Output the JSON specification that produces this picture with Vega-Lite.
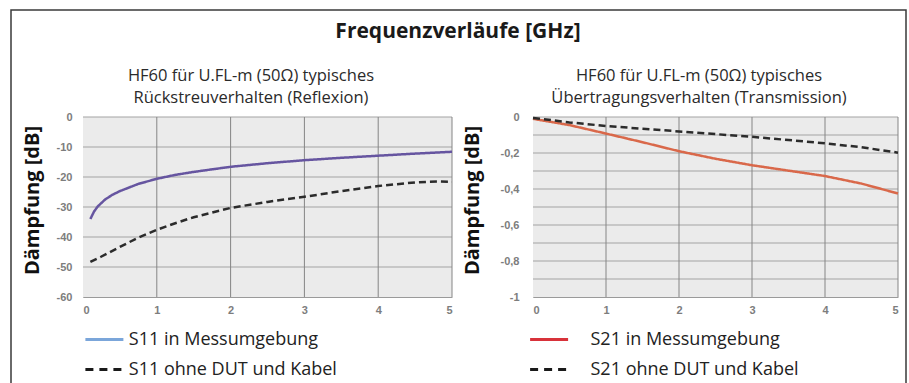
{
  "$schema": "https://vega.github.io/schema/vega-lite/v6.json",
  "width": 895,
  "height": 375,
  "autosize": {"type": "none"},
  "padding": {"left": 11, "top": 10, "right": 3, "bottom": 0},
  "background": "white",
  "config": {
    "view": {"stroke": "#3a3a3a", "strokeWidth": 1.5, "fill": "white"},
    "font": "Open Sans",
    "axis": {
      "labelFont": "Liberation Sans",
      "labelFontWeight": "bold",
      "labelFontSize": 11,
      "labelColor": "#7d7d7d",
      "ticks": false,
      "tickSize": 0,
      "grid": false,
      "domainColor": "#9a9a9a",
      "domainWidth": 1,
      "titleFont": "Open Sans",
      "titleFontWeight": "bold",
      "titleFontSize": 20,
      "titleColor": "#111111"
    },
    "legend": {
      "labelFont": "Open Sans",
      "labelFontSize": 18,
      "labelColor": "#222222",
      "labelLimit": 400,
      "padding": 0,
      "rowPadding": 11,
      "symbolType": "M-2.5,0H2.5",
      "symbolSize": 231,
      "symbolStrokeWidth": 3
    }
  },
  "datasets": {
    "s11": [
      {"f": 0.1, "db": -34.0, "s": "S11 in Messumgebung"},
      {"f": 0.15, "db": -31.5, "s": "S11 in Messumgebung"},
      {"f": 0.2, "db": -29.8, "s": "S11 in Messumgebung"},
      {"f": 0.3, "db": -27.5, "s": "S11 in Messumgebung"},
      {"f": 0.4, "db": -25.9, "s": "S11 in Messumgebung"},
      {"f": 0.5, "db": -24.7, "s": "S11 in Messumgebung"},
      {"f": 0.75, "db": -22.3, "s": "S11 in Messumgebung"},
      {"f": 1.0, "db": -20.6, "s": "S11 in Messumgebung"},
      {"f": 1.25, "db": -19.3, "s": "S11 in Messumgebung"},
      {"f": 1.5, "db": -18.3, "s": "S11 in Messumgebung"},
      {"f": 2.0, "db": -16.6, "s": "S11 in Messumgebung"},
      {"f": 2.5, "db": -15.4, "s": "S11 in Messumgebung"},
      {"f": 3.0, "db": -14.4, "s": "S11 in Messumgebung"},
      {"f": 3.5, "db": -13.6, "s": "S11 in Messumgebung"},
      {"f": 4.0, "db": -12.9, "s": "S11 in Messumgebung"},
      {"f": 4.5, "db": -12.2, "s": "S11 in Messumgebung"},
      {"f": 5.0, "db": -11.6, "s": "S11 in Messumgebung"},
      {"f": 0.1, "db": -48.3, "s": "S11 ohne DUT und Kabel"},
      {"f": 0.25, "db": -46.5, "s": "S11 ohne DUT und Kabel"},
      {"f": 0.5, "db": -43.3, "s": "S11 ohne DUT und Kabel"},
      {"f": 0.75, "db": -40.2, "s": "S11 ohne DUT und Kabel"},
      {"f": 1.0, "db": -37.6, "s": "S11 ohne DUT und Kabel"},
      {"f": 1.25, "db": -35.4, "s": "S11 ohne DUT und Kabel"},
      {"f": 1.5, "db": -33.4, "s": "S11 ohne DUT und Kabel"},
      {"f": 2.0, "db": -30.3, "s": "S11 ohne DUT und Kabel"},
      {"f": 2.5, "db": -28.3, "s": "S11 ohne DUT und Kabel"},
      {"f": 3.0, "db": -26.6, "s": "S11 ohne DUT und Kabel"},
      {"f": 3.5, "db": -24.7, "s": "S11 ohne DUT und Kabel"},
      {"f": 4.0, "db": -23.0, "s": "S11 ohne DUT und Kabel"},
      {"f": 4.5, "db": -21.8, "s": "S11 ohne DUT und Kabel"},
      {"f": 4.8, "db": -21.5, "s": "S11 ohne DUT und Kabel"},
      {"f": 5.0, "db": -21.6, "s": "S11 ohne DUT und Kabel"}
    ],
    "s21": [
      {"f": 0.0, "db": -0.01, "s": "S21 in Messumgebung"},
      {"f": 0.5, "db": -0.045, "s": "S21 in Messumgebung"},
      {"f": 1.0, "db": -0.092, "s": "S21 in Messumgebung"},
      {"f": 1.5, "db": -0.14, "s": "S21 in Messumgebung"},
      {"f": 2.0, "db": -0.19, "s": "S21 in Messumgebung"},
      {"f": 2.5, "db": -0.232, "s": "S21 in Messumgebung"},
      {"f": 3.0, "db": -0.268, "s": "S21 in Messumgebung"},
      {"f": 3.5, "db": -0.298, "s": "S21 in Messumgebung"},
      {"f": 4.0, "db": -0.328, "s": "S21 in Messumgebung"},
      {"f": 4.5, "db": -0.37, "s": "S21 in Messumgebung"},
      {"f": 5.0, "db": -0.425, "s": "S21 in Messumgebung"},
      {"f": 0.0, "db": -0.005, "s": "S21 ohne DUT und Kabel"},
      {"f": 0.5, "db": -0.03, "s": "S21 ohne DUT und Kabel"},
      {"f": 1.0, "db": -0.05, "s": "S21 ohne DUT und Kabel"},
      {"f": 1.5, "db": -0.065, "s": "S21 ohne DUT und Kabel"},
      {"f": 2.0, "db": -0.08, "s": "S21 ohne DUT und Kabel"},
      {"f": 2.5, "db": -0.095, "s": "S21 ohne DUT und Kabel"},
      {"f": 3.0, "db": -0.11, "s": "S21 ohne DUT und Kabel"},
      {"f": 3.5, "db": -0.128, "s": "S21 ohne DUT und Kabel"},
      {"f": 4.0, "db": -0.146, "s": "S21 ohne DUT und Kabel"},
      {"f": 4.5, "db": -0.168, "s": "S21 ohne DUT und Kabel"},
      {"f": 5.0, "db": -0.198, "s": "S21 ohne DUT und Kabel"}
    ],
    "none": [],
    "gridFreq": [{"v": 1}, {"v": 2}, {"v": 3}, {"v": 4}, {"v": 5}],
    "gridS11": [{"v": 0}, {"v": -10}, {"v": -20}, {"v": -30}, {"v": -40}, {"v": -50}],
    "gridS21": [{"v": 0}, {"v": -0.1}, {"v": -0.2}, {"v": -0.3}, {"v": -0.4}, {"v": -0.5}, {"v": -0.6}, {"v": -0.7}, {"v": -0.8}, {"v": -0.9}]
  },
  "layer": [
    {
      "layer": [
        {
          "data": {"values": [{"panel": "Reflexion"}]},
          "mark": {"type": "rect", "color": "#ebebeb"},
          "encoding": {
            "x": {"datum": 0, "type": "quantitative"},
            "x2": {"datum": 5},
            "y": {"datum": 0, "type": "quantitative"},
            "y2": {"datum": -60}
          }
        },
        {
          "data": {"name": "gridS11"},
          "mark": {"type": "rule", "color": "#a3a3a3", "strokeWidth": 1},
          "encoding": {
            "y": {"field": "v", "type": "quantitative"},
            "x": {"datum": 0, "type": "quantitative"},
            "x2": {"datum": 5}
          }
        },
        {
          "data": {"name": "gridFreq"},
          "mark": {"type": "rule", "color": "#858585", "strokeWidth": 1},
          "encoding": {
            "x": {"field": "v", "type": "quantitative"},
            "y": {"datum": 0, "type": "quantitative"},
            "y2": {"datum": -60}
          }
        },
        {
          "data": {"name": "s11"},
          "mark": {"type": "line", "strokeWidth": 2.5},
          "encoding": {
            "x": {
              "field": "f", "type": "quantitative",
              "scale": {"domain": [0, 5], "range": [72, 441], "nice": false, "zero": false},
              "axis": {"orient": "bottom", "offset": -88, "values": [0, 1, 2, 3, 4, 5], "format": "d", "labelPadding": 7, "title": null}
            },
            "y": {
              "field": "db", "type": "quantitative",
              "scale": {"domain": [-60, 0], "range": [287, 107], "nice": false},
              "axis": {
                "orient": "left", "offset": -72,
                "values": [0, -10, -20, -30, -40, -50, -60],
                "labelExpr": "datum.value == 0 ? '0' : '-' + format(abs(datum.value), 'd')",
                "labelPadding": 11,
                "title": "Dämpfung [dB]", "titleX": -45, "titleY": 190, "titleAngle": -90, "titleAlign": "center", "titleBaseline": "alphabetic"
              }
            },
            "color": {
              "field": "s", "type": "nominal",
              "scale": {"domain": ["S11 in Messumgebung", "S11 ohne DUT und Kabel"], "range": ["#6655a0", "#2b2b2b"]},
              "legend": null
            },
            "strokeDash": {
              "field": "s", "type": "nominal",
              "scale": {"domain": ["S11 in Messumgebung", "S11 ohne DUT und Kabel"], "range": [[1, 0], [7, 4]]},
              "legend": null
            }
          }
        },
        {
          "data": {"name": "none"},
          "mark": {"type": "line", "strokeWidth": 3},
          "encoding": {
            "x": {"field": "f", "type": "quantitative"},
            "y": {"field": "db", "type": "quantitative"},
            "color": {
              "field": "s", "type": "nominal",
              "scale": {"domain": ["S11 in Messumgebung", "S11 ohne DUT und Kabel"], "range": ["#7ba6da", "#1a1a1a"]},
              "legend": {"title": null, "orient": "none", "legendX": 83.9, "legendY": 320, "labelOffset": 14.9}
            },
            "strokeDash": {
              "field": "s", "type": "nominal",
              "scale": {"domain": ["S11 in Messumgebung", "S11 ohne DUT und Kabel"], "range": [[1, 0], [8, 6]]},
              "legend": {"title": null, "orient": "none", "legendX": 83.9, "legendY": 320, "labelOffset": 14.9}
            }
          }
        },
        {
          "data": {"values": [{"t": "HF60 für U.FL-m (50Ω) typisches\nRückstreuverhalten (Reflexion)"}]},
          "mark": {"type": "text", "lineBreak": "\n", "lineHeight": 21.5, "fontSize": 16.5, "color": "#2a2a2a", "align": "center", "baseline": "alphabetic"},
          "encoding": {
            "x": {"datum": 2.276, "type": "quantitative"},
            "y": {"datum": 12, "type": "quantitative"},
            "text": {"field": "t"}
          }
        },
        {
          "data": {"values": [{"t": "Frequenzverläufe [GHz]"}]},
          "mark": {"type": "text", "fontSize": 21, "fontWeight": "bold", "color": "#1a1a1a", "align": "center", "baseline": "alphabetic"},
          "encoding": {
            "x": {"datum": 5.081, "type": "quantitative"},
            "y": {"datum": 26.33, "type": "quantitative"},
            "text": {"field": "t"}
          }
        }
      ],
      "resolve": {"scale": {"color": "independent", "strokeDash": "independent"}}
    },
    {
      "layer": [
        {
          "data": {"values": [{"panel": "Transmission"}]},
          "mark": {"type": "rect", "color": "#ebebeb"},
          "encoding": {
            "x": {"datum": 0, "type": "quantitative"},
            "x2": {"datum": 5},
            "y": {"datum": 0, "type": "quantitative"},
            "y2": {"datum": -1}
          }
        },
        {
          "data": {"name": "gridS21"},
          "mark": {"type": "rule", "color": "#a3a3a3", "strokeWidth": 1},
          "encoding": {
            "y": {"field": "v", "type": "quantitative"},
            "x": {"datum": 0, "type": "quantitative"},
            "x2": {"datum": 5}
          }
        },
        {
          "data": {"name": "gridFreq"},
          "mark": {"type": "rule", "color": "#858585", "strokeWidth": 1},
          "encoding": {
            "x": {"field": "v", "type": "quantitative"},
            "y": {"datum": 0, "type": "quantitative"},
            "y2": {"datum": -1}
          }
        },
        {
          "data": {"name": "s21"},
          "mark": {"type": "line", "strokeWidth": 2.5},
          "encoding": {
            "x": {
              "field": "f", "type": "quantitative",
              "scale": {"domain": [0, 5], "range": [522, 887], "nice": false, "zero": false},
              "axis": {"orient": "bottom", "offset": -88, "values": [0, 1, 2, 3, 4, 5], "format": "d", "labelPadding": 7, "title": null}
            },
            "y": {
              "field": "db", "type": "quantitative",
              "scale": {"domain": [-1, 0], "range": [287, 107], "nice": false},
              "axis": {
                "orient": "left", "offset": -522,
                "values": [0, -0.2, -0.4, -0.6, -0.8, -1],
                "labelExpr": "datum.value == 0 ? '0' : '-' + replace(format(abs(datum.value), '.1~f'), '.', ',')",
                "labelPadding": 14,
                "title": "Dämpfung [dB]", "titleX": -55, "titleY": 190, "titleAngle": -90, "titleAlign": "center", "titleBaseline": "alphabetic"
              }
            },
            "color": {
              "field": "s", "type": "nominal",
              "scale": {"domain": ["S21 in Messumgebung", "S21 ohne DUT und Kabel"], "range": ["#d9684a", "#2b2b2b"]},
              "legend": null
            },
            "strokeDash": {
              "field": "s", "type": "nominal",
              "scale": {"domain": ["S21 in Messumgebung", "S21 ohne DUT und Kabel"], "range": [[1, 0], [7, 4]]},
              "legend": null
            }
          }
        },
        {
          "data": {"name": "none"},
          "mark": {"type": "line", "strokeWidth": 3},
          "encoding": {
            "x": {"field": "f", "type": "quantitative"},
            "y": {"field": "db", "type": "quantitative"},
            "color": {
              "field": "s", "type": "nominal",
              "scale": {"domain": ["S21 in Messumgebung", "S21 ohne DUT und Kabel"], "range": ["#d8323a", "#1a1a1a"]},
              "legend": {"title": null, "orient": "none", "legendX": 528.6, "legendY": 320, "labelOffset": 31.9}
            },
            "strokeDash": {
              "field": "s", "type": "nominal",
              "scale": {"domain": ["S21 in Messumgebung", "S21 ohne DUT und Kabel"], "range": [[1, 0], [8, 6]]},
              "legend": {"title": null, "orient": "none", "legendX": 528.6, "legendY": 320, "labelOffset": 31.9}
            }
          }
        },
        {
          "data": {"values": [{"t": "HF60 für U.FL-m (50Ω) typisches\nÜbertragungsverhalten (Transmission)"}]},
          "mark": {"type": "text", "lineBreak": "\n", "lineHeight": 21.5, "fontSize": 16.5, "color": "#2a2a2a", "align": "center", "baseline": "alphabetic"},
          "encoding": {
            "x": {"datum": 2.274, "type": "quantitative"},
            "y": {"datum": 0.2, "type": "quantitative"},
            "text": {"field": "t"}
          }
        }
      ],
      "resolve": {"scale": {"color": "independent", "strokeDash": "independent"}}
    }
  ],
  "resolve": {"scale": {"x": "independent", "y": "independent", "color": "independent", "strokeDash": "independent"}}
}
